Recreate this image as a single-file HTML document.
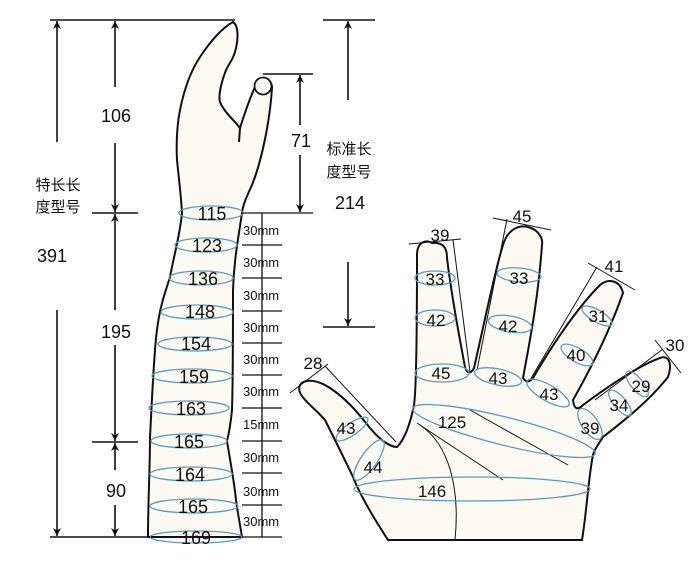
<!DOCTYPE html>
<html><head><meta charset="utf-8"><style>
html,body{margin:0;padding:0;background:#fff;}
svg{display:block;}
text{font-family:"Liberation Sans","Noto Sans CJK SC",sans-serif;fill:#111;}
</style></head><body>
<svg width="700" height="563" viewBox="0 0 700 563" xmlns="http://www.w3.org/2000/svg">
<defs>
<marker id="ah" viewBox="0 0 10 10" refX="10" refY="5" markerWidth="8" markerHeight="10" orient="auto-start-reverse" markerUnits="userSpaceOnUse"><path d="M0,0 L10,5 L0,10 L3,5 z" fill="#111"/></marker>
</defs>
<!-- Arm -->
<path d="M233,22 C239,26 238,40 236,48 C234,58 230,62 226,70 C222,80 218,95 220,102 C224,112 234,120 240,128 C245,112 250,98 255,87 A8.5,8.5 0 1 1 272,88 C270,120 262,160 252,185 C246,198 243,205 242,213 C238,240 234,260 233,290 C233,340 233,380 232,410 C230,430 228,437 227,441 C230,460 234,480 236,500 C238,515 241,530 242,537 L148,537 C148,500 150,470 150,437 C152,400 154,350 157,330 C160,305 166,290 170,277 C174,255 180,235 182,213 C181,195 179,180 177,160 C176,140 177,125 180,110 C184,90 190,72 200,57 C210,42 222,28 233,22 Z" fill="#fdfaf3" stroke="#111" stroke-width="2"/>
<line x1="240" y1="128" x2="239" y2="142" stroke="#111" stroke-width="2"/>
<circle cx="263" cy="86" r="8.5" fill="#fdfaf3" stroke="#111" stroke-width="1.8"/>
<g fill="none" stroke="#5a9ac0" stroke-width="1.3">
<ellipse cx="211" cy="213" rx="32" ry="7"/>
<ellipse cx="206" cy="245" rx="31" ry="7"/>
<ellipse cx="201" cy="278" rx="32" ry="7"/>
<ellipse cx="197" cy="312" rx="36" ry="7"/>
<ellipse cx="195" cy="344" rx="37" ry="7"/>
<ellipse cx="192" cy="376" rx="40" ry="7"/>
<ellipse cx="189" cy="408" rx="40" ry="7"/>
<ellipse cx="189" cy="441" rx="38" ry="7"/>
<ellipse cx="191" cy="474" rx="41" ry="7"/>
<ellipse cx="194" cy="506" rx="44" ry="7"/>
<ellipse cx="196" cy="537" rx="46" ry="6"/>
</g>
<g font-size="18" text-anchor="middle">
<text x="212" y="220">115</text><text x="207" y="252">123</text><text x="203" y="285">136</text>
<text x="200" y="318">148</text><text x="196" y="350">154</text><text x="194" y="383">159</text>
<text x="191" y="415">163</text><text x="189" y="448">165</text><text x="190" y="481">164</text>
<text x="193" y="513">165</text><text x="196" y="544">169</text>
</g>
<!-- ticks -->
<g stroke="#111" stroke-width="1.3">
<line x1="262" y1="213" x2="262" y2="537"/>
<line x1="242" y1="213" x2="313" y2="213"/>
<line x1="242" y1="245" x2="282" y2="245"/><line x1="242" y1="278" x2="282" y2="278"/>
<line x1="242" y1="311" x2="282" y2="311"/><line x1="242" y1="343" x2="282" y2="343"/>
<line x1="242" y1="375" x2="282" y2="375"/><line x1="242" y1="408" x2="282" y2="408"/>
<line x1="242" y1="441" x2="282" y2="441"/><line x1="242" y1="473" x2="282" y2="473"/>
<line x1="242" y1="505" x2="282" y2="505"/><line x1="242" y1="537" x2="282" y2="537"/>
</g>
<g font-size="13" fill="#111">
<text x="243" y="235">30mm</text><text x="243" y="267">30mm</text><text x="243" y="300">30mm</text>
<text x="243" y="332">30mm</text><text x="243" y="364">30mm</text><text x="243" y="396">30mm</text>
<text x="243" y="429">15mm</text><text x="243" y="462">30mm</text><text x="243" y="496">30mm</text>
<text x="243" y="526">30mm</text>
</g>
<!-- dimension lines -->
<g stroke="#111" stroke-width="1.6" fill="none">
<line x1="50" y1="20" x2="235" y2="20"/>
<line x1="50" y1="537" x2="150" y2="537"/>
<line x1="92" y1="213" x2="138" y2="213"/>
<line x1="92" y1="442" x2="138" y2="442"/>
<line x1="57" y1="142" x2="57" y2="21" marker-end="url(#ah)"/>
<line x1="57" y1="310" x2="57" y2="536" marker-end="url(#ah)"/>
<line x1="115" y1="87" x2="115" y2="21" marker-end="url(#ah)"/>
<line x1="115" y1="143" x2="115" y2="212" marker-end="url(#ah)"/>
<line x1="115" y1="310" x2="115" y2="214" marker-end="url(#ah)"/>
<line x1="115" y1="345" x2="115" y2="441" marker-end="url(#ah)"/>
<line x1="115" y1="470" x2="115" y2="443" marker-end="url(#ah)"/>
<line x1="115" y1="505" x2="115" y2="536" marker-end="url(#ah)"/>
<line x1="323" y1="20" x2="375" y2="20"/>
<line x1="348" y1="100" x2="348" y2="21" marker-end="url(#ah)"/>
<line x1="348" y1="262" x2="348" y2="326" marker-end="url(#ah)"/>
<line x1="323" y1="327" x2="375" y2="327"/>
<line x1="263" y1="74" x2="313" y2="74"/>
<line x1="300" y1="125" x2="300" y2="75" marker-end="url(#ah)"/>
<line x1="300" y1="155" x2="300" y2="212" marker-end="url(#ah)"/>
</g>
<g font-size="18" text-anchor="middle">
<text x="116" y="122">106</text><text x="116" y="338">195</text><text x="116" y="497">90</text>
<text x="52" y="262">391</text><text x="301" y="147">71</text><text x="350" y="209">214</text>
</g>
<g font-size="15" text-anchor="middle">
<text x="58" y="190">特长长</text><text x="58" y="212">度型号</text>
<text x="349" y="154">标准长</text><text x="349" y="177">度型号</text>
</g>
<!-- Hand -->
<path d="M300,385 C305,378 318,380 330,388 C345,398 356,410 370,428 C380,440 390,447 397,447 C404,440 410,425 414,405 C417,385 417,300 417,255 C417,240 428,240 432,243 C445,242 447,250 447,258 C452,300 460,340 465,367 C467,374 471,374 474,368 C485,320 495,270 503,245 C508,228 520,225 528,227 C540,230 543,240 542,245 C538,300 530,340 523,378 C526,383 530,382 533,378 C555,340 580,305 600,285 C608,278 620,280 623,293 C610,330 590,370 573,400 C574,410 578,410 583,405 C610,385 640,365 660,358 C668,355 673,362 668,377 C650,400 625,420 603,437 C598,445 594,450 593,455 C588,480 587,510 582,540 L388,540 C375,520 360,495 353,477 C345,460 335,440 325,420 C312,405 295,395 300,385 Z" fill="#fdfaf3" stroke="#111" stroke-width="2"/>
<g stroke="#111" stroke-width="1" fill="none">
<line x1="470" y1="410" x2="568" y2="465"/>
<line x1="417" y1="423" x2="503" y2="480"/>
<path d="M420,425 C450,445 460,490 455,540"/>
<line x1="290" y1="393" x2="328" y2="364"/>
<line x1="325" y1="366" x2="396" y2="442"/>
<line x1="409" y1="244" x2="461" y2="239"/>
<line x1="453" y1="240" x2="470" y2="372"/>
<line x1="493" y1="218" x2="551" y2="230"/>
<line x1="507" y1="219" x2="477" y2="370"/>
<line x1="588" y1="263" x2="635" y2="290"/>
<line x1="597" y1="267" x2="530" y2="380"/>
<line x1="655" y1="340" x2="681" y2="373"/>
<line x1="663" y1="349" x2="595" y2="400"/>
</g>
<g fill="none" stroke="#5a9ac0" stroke-width="1.3">
<ellipse cx="435" cy="278" rx="20" ry="7"/>
<ellipse cx="435" cy="318" rx="20" ry="8"/>
<ellipse cx="442" cy="373" rx="27" ry="9"/>
<ellipse cx="519" cy="275" rx="22" ry="7" transform="rotate(5 519 275)"/>
<ellipse cx="510" cy="324" rx="22" ry="8" transform="rotate(10 510 324)"/>
<ellipse cx="498" cy="377" rx="24" ry="8" transform="rotate(12 498 377)"/>
<ellipse cx="597" cy="316" rx="17" ry="6" transform="rotate(30 597 316)"/>
<ellipse cx="577" cy="355" rx="18" ry="7" transform="rotate(30 577 355)"/>
<ellipse cx="548" cy="393" rx="24" ry="8" transform="rotate(30 548 393)"/>
<ellipse cx="637" cy="384" rx="16" ry="6" transform="rotate(50 637 384)"/>
<ellipse cx="620" cy="403" rx="16" ry="6" transform="rotate(50 620 403)"/>
<ellipse cx="590" cy="424" rx="18" ry="8" transform="rotate(55 590 424)"/>
<ellipse cx="504" cy="431" rx="94" ry="14" transform="rotate(14 504 431)"/>
<ellipse cx="472" cy="489" rx="118" ry="12"/>
<ellipse cx="352" cy="429" rx="19" ry="6" transform="rotate(-35 352 429)"/>
<ellipse cx="369" cy="460" rx="24" ry="8" transform="rotate(-55 369 460)"/>
</g>
<g font-size="17" text-anchor="middle">
<text x="435" y="285">33</text><text x="436" y="326">42</text><text x="441" y="379">45</text>
<text x="519" y="284">33</text><text x="508" y="332">42</text><text x="498" y="384">43</text>
<text x="598" y="322">31</text><text x="576" y="361">40</text><text x="549" y="400">43</text>
<text x="641" y="392">29</text><text x="619" y="411">34</text><text x="590" y="434">39</text>
<text x="452" y="428">125</text><text x="432" y="497">146</text>
<text x="346" y="434">43</text><text x="373" y="473">44</text>
<text x="313" y="369">28</text><text x="440" y="241">39</text><text x="522" y="222">45</text>
<text x="614" y="272">41</text><text x="675" y="351">30</text>
</g>
</svg>
</body></html>
